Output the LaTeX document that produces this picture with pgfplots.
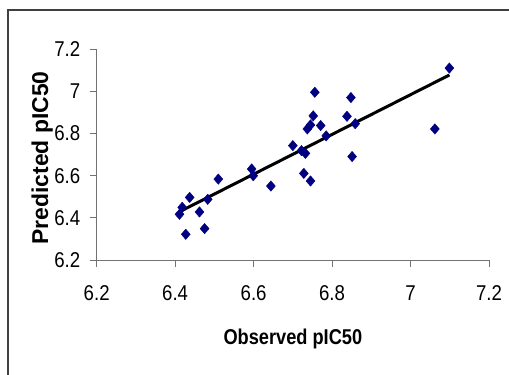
\documentclass[border=0pt]{standalone}
\usepackage{pgfplots}
\pgfplotsset{compat=1.18}
\usepackage{fontspec}
\setmainfont{Liberation Sans}
\newfontfamily\tickfont[FakeStretch=0.87]{Liberation Sans}
\newfontfamily\xlabfont[FakeStretch=0.85]{Liberation Sans}
\definecolor{navy}{RGB}{0,0,128}
\begin{document}
\begin{tikzpicture}
\useasboundingbox (0,0) rectangle (509bp,375bp);
\draw[line width=1.3bp, black!75] (8bp,0) -- (8bp,365bp) -- (509bp,365bp);
\begin{axis}[
  at={(96.7bp,115bp)}, anchor=south west,
  scale only axis, width=392.3bp, height=210.7bp,
  xmin=6.2, xmax=7.2, ymin=6.2, ymax=7.2,
  xtick={6.2,6.4,6.6,6.8,7,7.2},
  ytick={6.2,6.4,6.6,6.8,7,7.2},
  axis x line=bottom, axis y line=left,
  axis line style={-, black!55, line width=1bp},
  tick style={black!55, line width=1bp},
  tick align=outside, major tick length=7bp,
  /pgf/number format/assume math mode=true,
  ticklabel style={font=\tickfont\fontsize{21.5}{24}\selectfont},
  xticklabel style={yshift=-15bp},
  yticklabel style={xshift=-6bp},
  xlabel={Observed pIC50},
  ylabel={Predicted pIC50},
  xlabel style={font=\xlabfont\bfseries\fontsize{21.5}{24}\selectfont, at={(axis description cs:0.5,-0.375)}, anchor=center},
  ylabel style={font=\bfseries\fontsize{23}{26}\selectfont, at={(axis description cs:-0.139,0.484)}, anchor=center, rotate=0},
  clip=false,
]
\addplot[black, line width=3bp] coordinates {(6.411,6.429) (7.099,7.078)};
\addplot[only marks, mark=diamond*, mark size=5.2bp, color=navy, mark options={fill=navy, draw=navy, xscale=1.15}] coordinates {
(6.411,6.417) (6.418,6.450) (6.427,6.322) (6.437,6.497) (6.462,6.428)
(6.475,6.349) (6.483,6.488) (6.510,6.584) (6.595,6.632) (6.599,6.600)
(6.644,6.551) (6.700,6.743) (6.722,6.719) (6.732,6.706) (6.728,6.611)
(6.745,6.575) (6.737,6.822) (6.745,6.841) (6.752,6.884) (6.756,6.996)
(6.771,6.838) (6.785,6.789) (6.838,6.882) (6.848,6.971) (6.859,6.847)
(6.851,6.691) (7.062,6.822) (7.099,7.111)
};
\end{axis}
\end{tikzpicture}
\end{document}
